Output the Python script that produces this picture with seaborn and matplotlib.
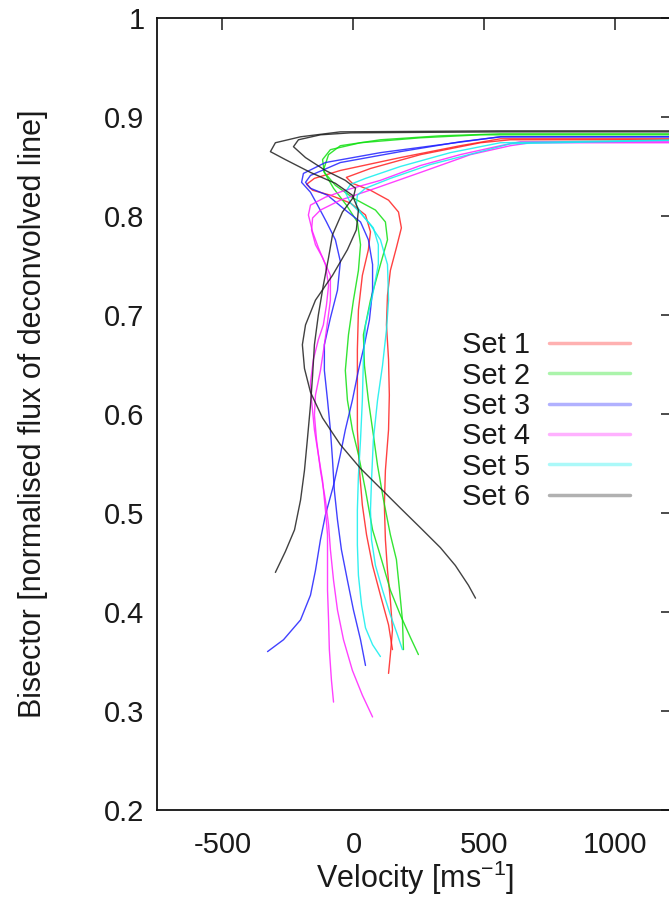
import numpy as np
import pandas as pd
import matplotlib
matplotlib.use("Agg")
import matplotlib.pyplot as plt
import seaborn as sns

# ---------------- data (velocity in m/s, bisector in normalised flux) ----------------
set_names = ["Set 1", "Set 2", "Set 3", "Set 4", "Set 5", "Set 6"]

set1_a_v = [134, 141, 149, 141, 130, 122, 118, 122, 134, 137, 134, 126, 130, 141, 164, 183, 172, 134, 65, -4, -27, 65, 256, 485, 599, 1500]
set1_a_b = [0.338, 0.357, 0.382, 0.412, 0.442, 0.473, 0.508, 0.543, 0.584, 0.619, 0.655, 0.690, 0.720, 0.745, 0.768, 0.788, 0.804, 0.816, 0.826, 0.833, 0.839, 0.848, 0.862, 0.874, 0.877, 0.877]
set1_b_v = [149, 134, 103, 73, 50, 34, 23, 15, 15, 15, 19, 34, 57, 65, 46, -11, -88, -156, -179, -149, -50, 179, 408, 561, 1500]
set1_b_b = [0.362, 0.387, 0.417, 0.447, 0.478, 0.508, 0.543, 0.584, 0.624, 0.665, 0.705, 0.740, 0.766, 0.784, 0.801, 0.813, 0.821, 0.826, 0.832, 0.838, 0.846, 0.859, 0.871, 0.878, 0.878]

set2_a_v = [191, 187, 176, 164, 141, 115, 92, 76, 57, 42, 38, 65, 103, 130, 122, 84, 0, -69, -111, -118, -88, 27, 256, 485, 1500]
set2_a_b = [0.362, 0.392, 0.422, 0.453, 0.478, 0.513, 0.548, 0.579, 0.614, 0.649, 0.680, 0.715, 0.751, 0.776, 0.794, 0.806, 0.818, 0.831, 0.844, 0.857, 0.867, 0.874, 0.879, 0.882, 0.882]
set2_b_v = [248, 218, 179, 141, 107, 73, 46, 19, -4, -23, -31, -19, 0, 19, 27, 15, -27, -76, -115, -95, -50, 103, 332, 561, 1500]
set2_b_b = [0.357, 0.374, 0.397, 0.422, 0.453, 0.483, 0.523, 0.559, 0.584, 0.614, 0.644, 0.680, 0.715, 0.745, 0.771, 0.794, 0.811, 0.828, 0.846, 0.862, 0.871, 0.877, 0.881, 0.883, 0.883]

set3_a_v = [-328, -267, -202, -164, -145, -126, -107, -76, -50, -31, -4, 19, 42, 61, 73, 73, 57, 27, -31, -99, -164, -183, -164, -50, 179, 408, 561, 1500]
set3_a_b = [0.360, 0.372, 0.392, 0.417, 0.442, 0.473, 0.498, 0.528, 0.559, 0.584, 0.614, 0.644, 0.670, 0.695, 0.725, 0.751, 0.776, 0.794, 0.806, 0.821, 0.828, 0.834, 0.841, 0.854, 0.865, 0.875, 0.880, 0.880]
set3_b_v = [46, 27, 0, -23, -46, -61, -73, -80, -88, -99, -111, -111, -88, -61, -50, -69, -103, -137, -164, -198, -191, -107, 103, 332, 561, 1500]
set3_b_b = [0.346, 0.372, 0.402, 0.432, 0.463, 0.493, 0.523, 0.554, 0.584, 0.614, 0.644, 0.670, 0.697, 0.725, 0.754, 0.776, 0.794, 0.811, 0.824, 0.834, 0.843, 0.854, 0.864, 0.872, 0.880, 0.880]

set4_a_v = [-76, -84, -92, -95, -99, -99, -99, -107, -118, -134, -149, -160, -164, -153, -134, -115, -103, -95, -107, -134, -156, -172, -164, -107, -31, 103, 256, 408, 561, 637, 1500]
set4_a_b = [0.309, 0.331, 0.362, 0.392, 0.422, 0.453, 0.478, 0.503, 0.533, 0.559, 0.584, 0.614, 0.632, 0.655, 0.675, 0.690, 0.710, 0.730, 0.751, 0.768, 0.784, 0.801, 0.811, 0.819, 0.826, 0.836, 0.851, 0.862, 0.871, 0.875, 0.875]
set4_b_v = [73, 34, -4, -38, -61, -76, -88, -95, -107, -126, -141, -149, -145, -126, -111, -103, -88, -88, -118, -145, -160, -156, -126, -50, 84, 256, 447, 599, 676, 1500]
set4_b_b = [0.294, 0.316, 0.341, 0.372, 0.402, 0.432, 0.463, 0.488, 0.513, 0.543, 0.574, 0.599, 0.619, 0.644, 0.670, 0.685, 0.715, 0.740, 0.758, 0.771, 0.786, 0.798, 0.806, 0.816, 0.828, 0.844, 0.862, 0.871, 0.874, 0.874]

set5_a_v = [103, 73, 46, 31, 19, 15, 15, 19, 27, 34, 38, 46, 73, 95, 95, 76, 34, -11, -31, -11, 46, 179, 370, 561, 1500]
set5_a_b = [0.355, 0.367, 0.384, 0.407, 0.437, 0.468, 0.503, 0.538, 0.574, 0.614, 0.655, 0.690, 0.720, 0.751, 0.771, 0.788, 0.801, 0.813, 0.824, 0.832, 0.838, 0.850, 0.864, 0.874, 0.878]
set5_b_v = [187, 168, 141, 111, 84, 69, 65, 69, 76, 92, 111, 126, 134, 130, 103, 65, 34, 11, 15, 46, 141, 294, 485, 599, 1500]
set5_b_b = [0.362, 0.377, 0.397, 0.422, 0.447, 0.473, 0.503, 0.533, 0.574, 0.614, 0.649, 0.685, 0.715, 0.751, 0.776, 0.791, 0.801, 0.811, 0.821, 0.828, 0.838, 0.852, 0.865, 0.873, 0.878]

set6_a_v = [-298, -260, -225, -202, -187, -176, -164, -156, -149, -134, -115, -95, -80, -42, 0, 8, -31, -107, -183, -229, -210, -126, -11, 561, 1500]
set6_a_b = [0.440, 0.461, 0.483, 0.513, 0.543, 0.574, 0.609, 0.639, 0.670, 0.700, 0.730, 0.758, 0.781, 0.804, 0.819, 0.828, 0.836, 0.846, 0.859, 0.870, 0.877, 0.882, 0.884, 0.885, 0.885]
set6_b_v = [466, 439, 389, 332, 256, 179, 103, 27, -50, -118, -164, -187, -195, -183, -145, -80, -23, 11, 19, -4, -69, -164, -260, -317, -298, -202, -50, 561, 1500]
set6_b_b = [0.414, 0.427, 0.447, 0.465, 0.485, 0.505, 0.525, 0.545, 0.569, 0.596, 0.622, 0.646, 0.670, 0.690, 0.715, 0.740, 0.766, 0.786, 0.806, 0.821, 0.833, 0.844, 0.857, 0.865, 0.874, 0.880, 0.885, 0.886, 0.886]

x_ticks = [-500, 0, 500, 1000]
y_ticks = [0.2, 0.3, 0.4, 0.5, 0.6, 0.7, 0.8, 0.9, 1.0]
y_tick_labels = ["0.2", "0.3", "0.4", "0.5", "0.6", "0.7", "0.8", "0.9", "1"]

curves = [
    ("Set 1", "1a", set1_a_v, set1_a_b), ("Set 1", "1b", set1_b_v, set1_b_b),
    ("Set 2", "2a", set2_a_v, set2_a_b), ("Set 2", "2b", set2_b_v, set2_b_b),
    ("Set 3", "3a", set3_a_v, set3_a_b), ("Set 3", "3b", set3_b_v, set3_b_b),
    ("Set 4", "4a", set4_a_v, set4_a_b), ("Set 4", "4b", set4_b_v, set4_b_b),
    ("Set 5", "5a", set5_a_v, set5_a_b), ("Set 5", "5b", set5_b_v, set5_b_b),
    ("Set 6", "6a", set6_a_v, set6_a_b), ("Set 6", "6b", set6_b_v, set6_b_b),
]
rows = []
for s, cid, vv, bb in curves:
    for i, (v, b) in enumerate(zip(vv, bb)):
        rows.append({"set": s, "curve": cid, "order": i, "v": v, "b": b})
df = pd.DataFrame(rows)

palette = {"Set 1": "#ff2020", "Set 2": "#10e010", "Set 3": "#2020ff",
           "Set 4": "#ff20ff", "Set 5": "#10eeee", "Set 6": "#202020"}

# ---------------- style ----------------
sns.set_style("white")
plt.rcParams["font.family"] = ["Liberation Sans", "DejaVu Sans"]
plt.rcParams["mathtext.fontset"] = "custom"
plt.rcParams["mathtext.rm"] = "Liberation Sans"
plt.rcParams["mathtext.it"] = "Liberation Sans"
text_color = "#1a1a1a"

fig = plt.figure(figsize=(6.69, 9.06), dpi=100)
ax = fig.add_axes([157 / 669, 96 / 906, 516 / 669, 792 / 906])

sns.lineplot(data=df, x="v", y="b", hue="set", units="curve", estimator=None,
             sort=False, palette=palette, hue_order=set_names, lw=1.0, alpha=0.85, ax=ax)

ax.set_xlim(-750, 1220)
ax.set_ylim(0.2, 1.0)
ax.set_xticks(x_ticks)
ax.set_xticklabels([str(t) for t in x_ticks])
ax.set_yticks(y_ticks)
ax.set_yticklabels(y_tick_labels)
ax.tick_params(direction="in", length=8.6, width=1.1, top=True, right=True,
               labelsize=21, colors=text_color)
ax.tick_params(axis="y", pad=9)
ax.tick_params(axis="x", pad=15)
for sp in ax.spines.values():
    sp.set_linewidth(1.3)
    sp.set_color("#111111")

ax.set_xlabel("Velocity [ms$^{-1}$]", fontsize=22, color=text_color)
ax.set_ylabel("Bisector [normalised flux of deconvolved line]", fontsize=22, color=text_color)
ax.xaxis.set_label_coords(0.5, -0.061)
ax.yaxis.set_label_coords(-0.211, 0.5)

handles, labels = ax.get_legend_handles_labels()
for h in handles:
    h.set_linewidth(2.5)
    h.set_alpha(0.35)
ax.legend(handles, labels, markerfirst=False, frameon=False, loc="center",
          bbox_to_anchor=(546 / 669, 485 / 906), bbox_transform=fig.transFigure,
          fontsize=21, handlelength=2.8, handletextpad=0.65, labelspacing=0.08,
          borderpad=0, labelcolor=text_color)

fig.savefig("out.png", dpi=100)
